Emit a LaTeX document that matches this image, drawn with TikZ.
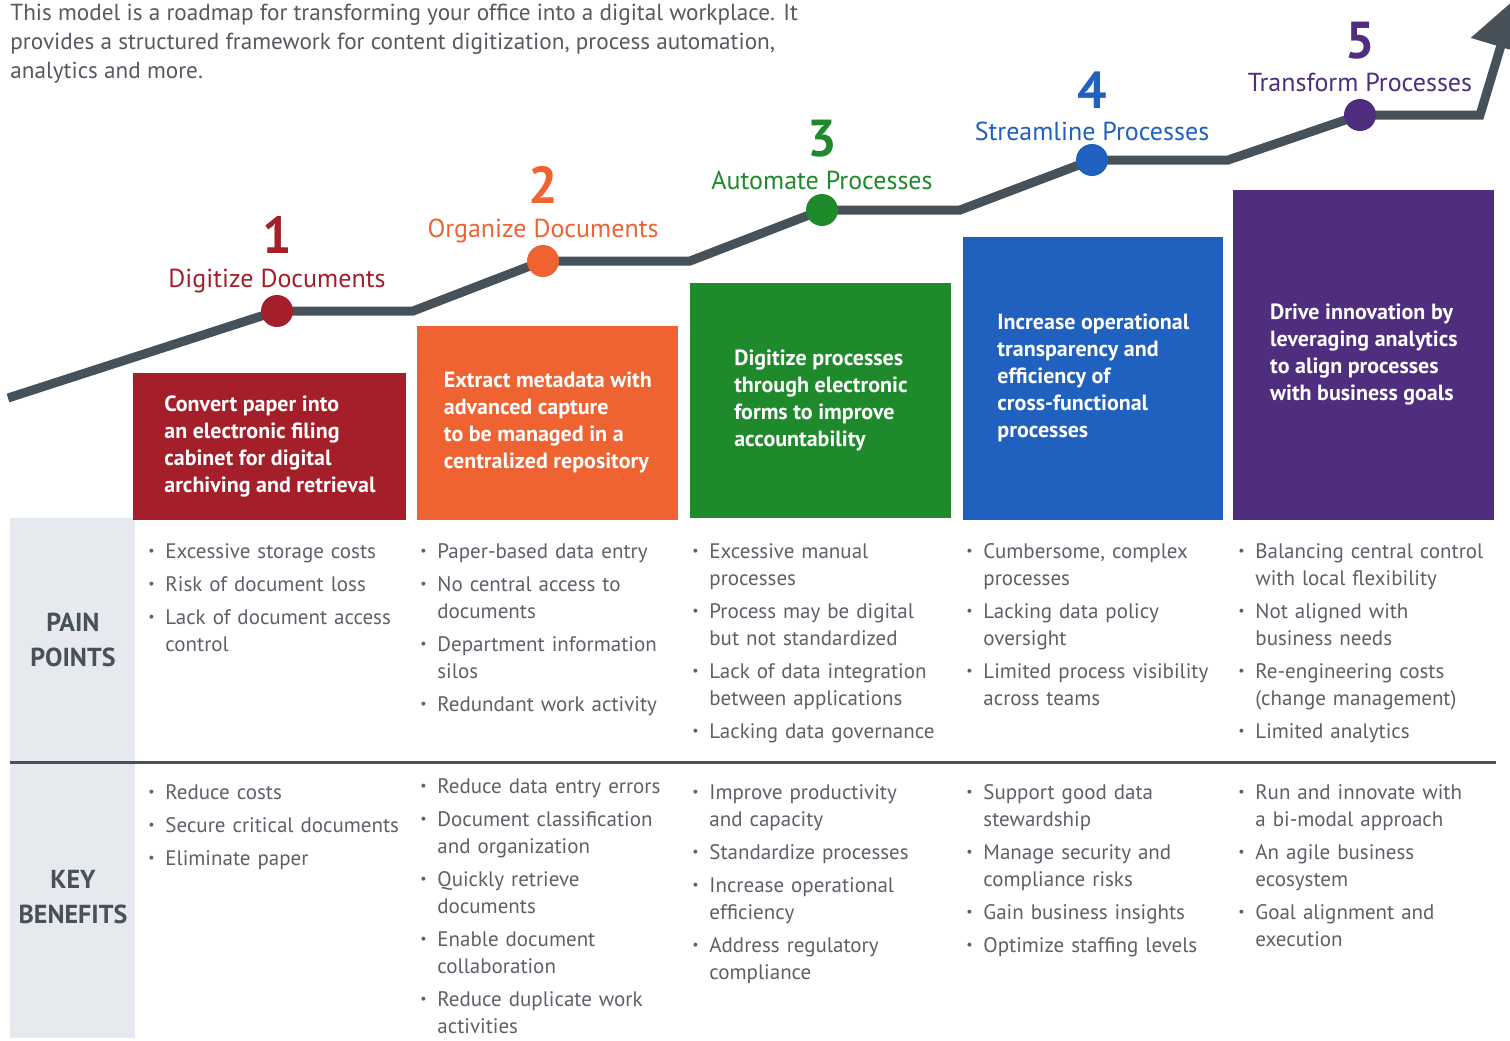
\documentclass[tikz,border=0pt]{standalone}
\usepackage{fontspec}
\setmainfont{PT Sans}
\usepackage{xcolor}
\usetikzlibrary{positioning, arrows.meta}

\definecolor{roadgray}{HTML}{46515A}
\definecolor{bandgray}{HTML}{E6E9EE}
\definecolor{listgray}{HTML}{5C6168}
\definecolor{introgray}{HTML}{555A60}
\definecolor{digred}{HTML}{A41F2A}
\definecolor{orgorange}{HTML}{EE6331}
\definecolor{autgreen}{HTML}{1F8A2C}
\definecolor{strblue}{HTML}{2060BE}
\definecolor{trfpurple}{HTML}{4F2D7F}

% list entry with a small bullet and hanging indent
\newcommand{\bitem}[1]{\ifvmode\vspace{3pt}\fi\noindent\hangindent=8.5pt\hangafter=1%
  \makebox[8.5pt][l]{\raisebox{0.3ex}{\scriptsize\textbullet}}#1\par}
\newcommand{\listfont}{\fontsize{10.5}{13.5}\selectfont}

\begin{document}
\begin{tikzpicture}[x=0.5pt, y=-0.5pt]
    \tikzstyle{stepbox} = [rectangle, anchor=south west, inner sep=0pt, text=white, align=left, font=\bfseries\fontsize{11}{13.5}\selectfont]
    \tikzstyle{dot} = [circle, inner sep=0pt, minimum size=16pt]
    \tikzstyle{steptitle} = [inner sep=0pt, text height=9pt, text depth=2.5pt, font=\fontsize{13}{15}\selectfont]
    \tikzstyle{stepnum} = [inner sep=0pt, text depth=0pt, font=\bfseries\fontsize{26}{28}\selectfont]
    \tikzstyle{plist} = [anchor=north west, inner sep=0pt, text width=135pt, text=listgray, font=\listfont]
    \tikzstyle{rowlabel} = [align=center, text=roadgray, font=\bfseries\fontsize{13}{17.5}\selectfont]
    \tikzstyle{road} = [draw=roadgray, line width=4.5pt, -{Triangle[length=25pt, width=30pt]}]

    \useasboundingbox (0,0) rectangle (1510,1040);
    \fill[white] (0,0) rectangle (1510,1040);

    \node [anchor=north west, inner sep=0pt, align=left, text=introgray, font=\fontsize{11.6}{14.5}\selectfont] (intro) at (10,4)
        {This model is a roadmap for transforming your office into a digital workplace. It\\
         provides a structured framework for content digitization, process automation,\\
         analytics and more.};

    % left band and row divider
    \fill[bandgray] (10,518) rectangle (135,1038);
    \draw[roadgray, line width=1.5pt] (10,762) -- (1496,762);

    % the road
    \coordinate (r0) at (8,398);
    \coordinate (p1) at (277,311);  \coordinate (k1) at (413,311);
    \coordinate (p2) at (543,261);  \coordinate (k2) at (690,261);
    \coordinate (p3) at (822,210);  \coordinate (k3) at (960,210);
    \coordinate (p4) at (1092,160); \coordinate (k4) at (1228,160);
    \coordinate (p5) at (1360,115); \coordinate (k5) at (1480,115);
    \coordinate (tip) at (1515,-1);
    \path [road] (r0) -- (p1) -- (k1) -- (p2) -- (k2) -- (p3) -- (k3) -- (p4) -- (k4) -- (p5) -- (k5) -- (tip);

    \node [dot, fill=digred] (d1) at (p1) {};
    \node [dot, fill=orgorange] (d2) at (p2) {};
    \node [dot, fill=autgreen] (d3) at (p3) {};
    \node [dot, fill=strblue] (d4) at (p4) {};
    \node [dot, fill=trfpurple] (d5) at (p5) {};

    \node [steptitle, text=digred, above=1pt of d1] (t1) {Digitize Documents};
    \node [steptitle, text=orgorange, above=1pt of d2] (t2) {Organize Documents};
    \node [steptitle, text=autgreen, above=-0.5pt of d3] (t3) {Automate Processes};
    \node [steptitle, text=strblue, above=-1pt of d4] (t4) {Streamline Processes};
    \node [steptitle, text=trfpurple, above=1pt of d5] (t5) {Transform Processes};

    \node [stepnum, text=digred, above=7.5pt of t1] (n1) {1};
    \node [stepnum, text=orgorange, above=7.5pt of t2] (n2) {2};
    \node [stepnum, text=autgreen, above=7pt of t3] (n3) {3};
    \node [stepnum, text=strblue, above=6.5pt of t4] (n4) {4};
    \node [stepnum, text=trfpurple, above=7pt of t5] (n5) {5};

    % coloured step boxes
    \node [stepbox, fill=digred, minimum width=136.5pt, minimum height=73.5pt] (box1) at (133,520)
        {Convert paper into\\an electronic filing\\cabinet for digital\\archiving and retrieval};
    \node [stepbox, fill=orgorange, minimum width=130.5pt, minimum height=97pt] (box2) at (417,520)
        {Extract metadata with\\advanced capture\\to be managed in a\\centralized repository};
    \node [stepbox, fill=autgreen, minimum width=130.5pt, minimum height=117.5pt] (box3) at (690,518)
        {Digitize processes\\through electronic\\forms to improve\\accountability};
    \node [stepbox, fill=strblue, minimum width=130pt, minimum height=141.5pt] (box4) at (963,520)
        {Increase operational\\transparency and\\efficiency of\\cross-functional\\processes};
    \node [stepbox, fill=trfpurple, minimum width=130.5pt, minimum height=165pt] (box5) at (1233,520)
        {Drive innovation by\\leveraging analytics\\to align processes\\with business goals};

    \node [rowlabel] (painlbl) at (73,640) {PAIN\\POINTS};
    \node [rowlabel] (benlbl) at (73,897) {KEY\\BENEFITS};

    % pain points
    \node [plist] (pain1) at (148,543) {\bitem{Excessive storage costs}\bitem{Risk of document loss}\bitem{Lack of document access\newline control}};
    \node [plist] (pain2) at (420,543) {\bitem{Paper-based data entry}\bitem{No central access to\newline documents}\bitem{Department information\newline silos}\bitem{Redundant work activity}};
    \node [plist] (pain3) at (692,543) {\bitem{Excessive manual\newline processes}\bitem{Process may be digital\newline but not standardized}\bitem{Lack of data integration\newline between applications}\bitem{Lacking data governance}};
    \node [plist] (pain4) at (966,543) {\bitem{Cumbersome, complex\newline processes}\bitem{Lacking data policy\newline oversight}\bitem{Limited process visibility\newline across teams}};
    \node [plist] (pain5) at (1238,543) {\bitem{Balancing central control\newline with local flexibility}\bitem{Not aligned with\newline business needs}\bitem{Re-engineering costs\newline (change management)}\bitem{Limited analytics}};

    % key benefits
    \node [plist] (ben1) at (148,784) {\bitem{Reduce costs}\bitem{Secure critical documents}\bitem{Eliminate paper}};
    \node [plist] (ben2) at (420,778) {\bitem{Reduce data entry errors}\bitem{Document classification\newline and organization}\bitem{Quickly retrieve\newline documents}\bitem{Enable document\newline collaboration}\bitem{Reduce duplicate work\newline activities}};
    \node [plist] (ben3) at (692,784) {\bitem{Improve productivity\newline and capacity}\bitem{Standardize processes}\bitem{Increase operational\newline efficiency}\bitem{Address regulatory\newline compliance}};
    \node [plist] (ben4) at (966,784) {\bitem{Support good data\newline stewardship}\bitem{Manage security and\newline compliance risks}\bitem{Gain business insights}\bitem{Optimize staffing levels}};
    \node [plist] (ben5) at (1238,784) {\bitem{Run and innovate with\newline a bi-modal approach}\bitem{An agile business\newline ecosystem}\bitem{Goal alignment and\newline execution}};
\end{tikzpicture}
\end{document}
